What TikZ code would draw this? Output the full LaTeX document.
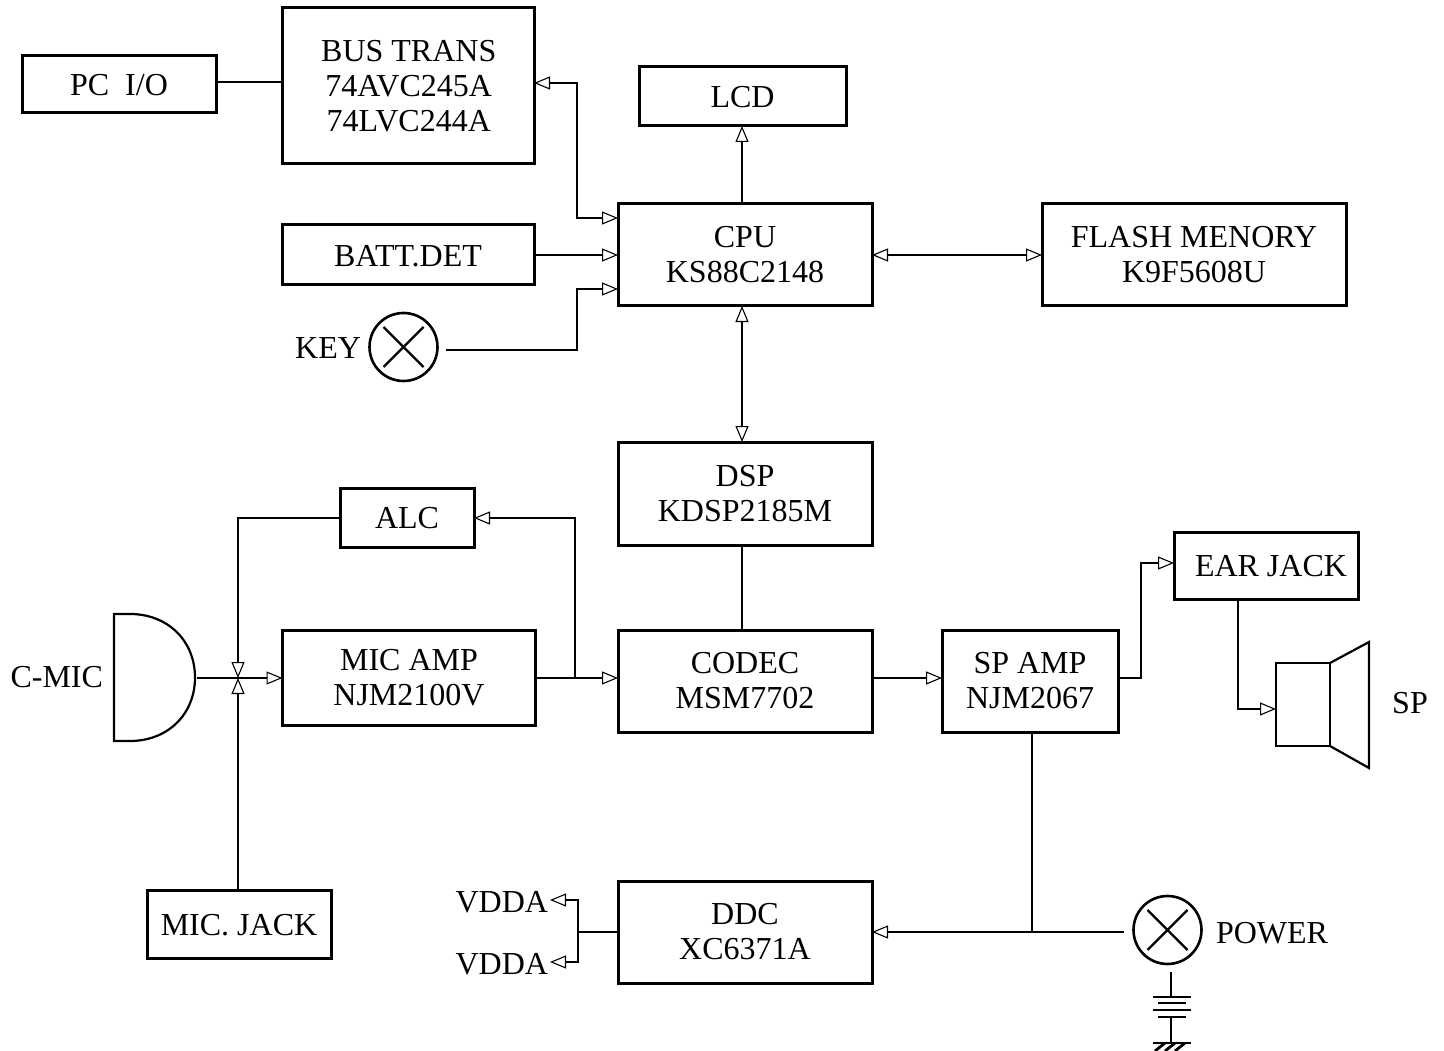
\documentclass[tikz,border=0pt]{standalone}
\usepackage{fontspec}
\setmainfont{Liberation Serif}
\usetikzlibrary{arrows.meta,calc}
\tikzset{
  opentip/.tip={Triangle[fill=white,length=16pt,width=13pt,line width=1.1pt]},
  blk/.style={draw=black,line width=3pt,fill=white,inner sep=0pt,outer sep=0pt,align=center,font=\fontsize{32}{35}\selectfont,execute at begin node={\rule{0pt}{23.1pt}}},
  lbl/.style={inner sep=0pt,outer sep=0pt,yshift=-1pt,font=\fontsize{32}{35}\selectfont},
  wire/.style={draw=black,line width=2.8pt},
  arr/.style={wire,-{opentip}},
  dbl/.style={wire,{opentip}-{opentip}},
  thinsym/.style={draw=black,line width=2.2pt},
  lamp/.style={circle,draw=black,line width=2.6pt,minimum size=68pt,inner sep=0pt,outer sep=0pt},
  battl/.style={draw=black,line width=2.8pt}
}
\begin{document}
\begin{tikzpicture}[x=1pt,y=-1pt]
\useasboundingbox (0,0) rectangle (1444,1051);
% blocks
\node[blk,minimum width=194pt,minimum height=57pt] (pc) at (119,84.5) {PC\ \ I/O};
\node[blk,minimum width=252pt,minimum height=156pt] (bus) at (408,86) {\hspace*{1.5pt}BUS TRANS\\\hspace*{1.5pt}74AVC245A\\\hspace*{1.5pt}74LVC244A};
\node[blk,minimum width=207pt,minimum height=59pt] (lcd) at (742.5,96.5) {LCD};
\node[blk,minimum width=254pt,minimum height=102pt] (cpu) at (745,255) {CPU\\KS88C2148};
\node[blk,minimum width=252pt,minimum height=60pt] (batt) at (408,255) {BATT.DET};
\node[blk,minimum width=304pt,minimum height=102pt] (flash) at (1194,255) {FLASH MENORY\\K9F5608U};
\node[blk,minimum width=254pt,minimum height=103pt] (dsp) at (745,493.5) {DSP\\KDSP2185M};
\node[blk,minimum width=134pt,minimum height=59pt] (alc) at (407,517.5) {ALC};
\node[blk,minimum width=253pt,minimum height=95pt] (micamp) at (409,677.5) {MIC AMP\\NJM2100V};
\node[blk,minimum width=254pt,minimum height=102pt] (codec) at (745,681) {CODEC\\MSM7702};
\node[blk,minimum width=176pt,minimum height=102pt] (spamp) at (1030,681) {SP AMP\\NJM2067};
\node[blk,minimum width=184pt,minimum height=67pt] (ear) at (1266,565.5) {\hspace*{10pt}EAR JACK};
\node[blk,minimum width=184pt,minimum height=68pt] (micjack) at (239,924) {MIC. JACK};
\node[blk,minimum width=254pt,minimum height=102pt] (ddc) at (745,932) {DDC\\XC6371A};
% lamps
\node[lamp] (keyl) at (403.5,347) {};
\draw[thinsym] ($(keyl)+(-20,-20)$) -- ($(keyl)+(20,20)$) ($(keyl)+(-20,20)$) -- ($(keyl)+(20,-20)$);
\node[lamp] (powl) at (1167.5,930) {};
\draw[thinsym] ($(powl)+(-20,-20)$) -- ($(powl)+(20,20)$) ($(powl)+(-20,20)$) -- ($(powl)+(20,-20)$);
% labels
\node[lbl,anchor=east] (keyt) at (361,347) {KEY};
\node[lbl,anchor=west] (powt) at (1216,932) {POWER};
\node[lbl,anchor=east] (mict) at (103,676) {C-MIC};
\node[lbl] (spt) at (1410,702) {SP};
\node[lbl,anchor=east] (v1) at (548,901) {VDDA};
\node[lbl,anchor=east] (v2) at (548,963) {VDDA};
% microphone
\draw[thinsym] (130,614) -- (114,614) -- (114,741) -- (130,741) .. controls (168,741) and (195,714) .. (195,677.5) .. controls (195,641) and (168,614) .. (130,614) -- cycle;
\coordinate (micout) at (197,678);
\coordinate (micj) at (238,678);
% speaker
\node[draw=black,line width=2.2pt,minimum width=54pt,minimum height=83pt,inner sep=0pt,outer sep=0pt] (spk) at (1303,704.5) {};
\draw[thinsym,line join=miter] (spk.north east) -- (1369,642) -- (1369,768) -- (spk.south east);
% connectors
\draw[wire] (pc.east |- 0,82) -- (bus.west |- 0,82);
\draw[dbl] (bus.east |- 0,83) -- (577,83) -- (577,218) -- (cpu.west |- 0,218);
\draw[arr] (742,204) -- (742,126);
\draw[arr] (batt.east) -- (cpu.west);
\draw[arr] (446,350) -- (577,350) -- (577,289) -- (cpu.west |- 0,289);
\draw[dbl] (cpu.east) -- (flash.west);
\draw[dbl] (742,306) -- (742,442);
\draw[wire] (742,545) -- (742,630);
\draw[arr] (micamp.east |- 0,678) -- (codec.west |- 0,678);
\draw[arr] (575,678) -- (575,518) -- (alc.east |- 0,518);
\draw[arr] (alc.west |- 0,518) -- (238,518) -- (micj);
\draw[arr] (238,890) -- (micj);
\draw[arr] (micout) -- (micamp.west |- 0,678);
\draw[arr] (codec.east |- 0,678) -- (spamp.west |- 0,678);
\draw[arr] (spamp.east |- 0,678) -- (1141,678) -- (1141,563) -- (ear.west |- 0,563);
\draw[arr] (1238,599) -- (1238,709) -- (spk.west |- 0,709);
\draw[wire] (1032,732) -- (1032,932);
\draw[arr] (1124,932) -- (ddc.east |- 0,932);
\draw[wire] (ddc.west |- 0,932) -- (578,932);
\draw[arr] (578,932) -- (578,900) -- (550,900);
\draw[arr] (578,932) -- (578,962) -- (550,962);
% battery and earth
\draw[battl] (1171,972) -- (1171,997);
\draw[battl] (1153,997) -- (1191,997);
\draw[battl] (1158,1003) -- (1186,1003);
\draw[battl] (1153,1010) -- (1191,1010);
\draw[battl] (1158,1017) -- (1186,1017);
\draw[battl] (1171,1017) -- (1171,1043);
\draw[battl] (1153,1043) -- (1191,1043);
\draw[battl] (1165,1043) -- (1155,1051) (1175,1043) -- (1165,1051) (1185,1043) -- (1175,1051);
\end{tikzpicture}
\end{document}
